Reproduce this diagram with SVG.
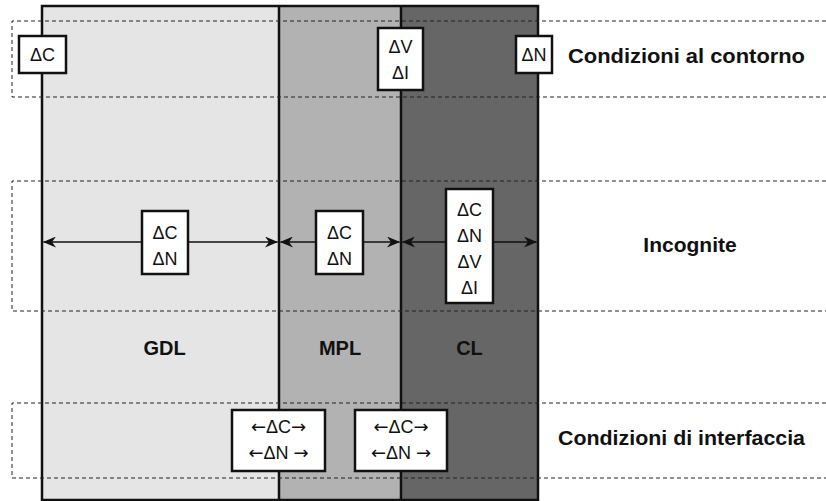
<svg xmlns="http://www.w3.org/2000/svg" width="826" height="501" viewBox="0 0 826 501">
  <style>
    .band { fill: none; stroke: #222; stroke-width: 1; stroke-dasharray: 4 3; }
    .wall { fill: none; stroke: #111; stroke-width: 2.5; }
    .box { fill: #fff; stroke: #111; stroke-width: 2.5; }
    .t { font-family: "Liberation Sans", Arial, sans-serif; font-size: 18px; fill: #111; text-anchor: middle; }
    .ar { font-family: "DejaVu Sans", sans-serif; font-size: 18px; }
    .h { font-family: "Liberation Sans", Arial, sans-serif; font-size: 21px; font-weight: bold; fill: #111; }
    .layer { font-family: "Liberation Sans", Arial, sans-serif; font-size: 20px; font-weight: bold; fill: #111; text-anchor: middle; }
    .conn { stroke: #111; stroke-width: 1.6; fill: none; marker-start: url(#arr); marker-end: url(#arr); }
  </style>
  <defs>
    <marker id="arr" viewBox="0 0 13 11" refX="12.5" refY="5.5" markerWidth="13" markerHeight="11" markerUnits="userSpaceOnUse" orient="auto-start-reverse">
      <path d="M0,0 L13,5.5 L0,11 L4,5.5 Z" fill="#111"/>
    </marker>
  </defs>

  <!-- layers -->
  <g id="layers">
    <rect x="42" y="6" width="237" height="494" fill="#e5e5e5"/>
    <rect x="279" y="6" width="122" height="494" fill="#b2b2b2"/>
    <rect x="401" y="6" width="137" height="494" fill="#666"/>
    <rect class="wall" x="42" y="6" width="496" height="494"/>
    <line class="wall" x1="279" y1="6" x2="279" y2="500"/>
    <line class="wall" x1="401" y1="6" x2="401" y2="500"/>
  </g>

  <!-- dashed bands -->
  <g id="bands">
    <path class="band" d="M826,21 H12 V97 H826"/>
    <path class="band" d="M826,181 H12 V311 H826"/>
    <path class="band" d="M826,403 H12 V478 H826"/>
  </g>

  <!-- connectors -->
  <g id="connectors">
    <line class="conn" x1="43.5" y1="242" x2="277.5" y2="242"/>
    <line class="conn" x1="280.5" y1="242" x2="399.5" y2="242"/>
    <line class="conn" x1="402.5" y1="242" x2="536.5" y2="242"/>
  </g>

  <!-- boundary conditions -->
  <g id="bc-c">
    <rect class="box" x="19" y="36" width="47" height="37"/>
    <text class="t" x="42.5" y="61">ΔC</text>
  </g>
  <g id="bc-vi">
    <rect class="box" x="378" y="28" width="45" height="62"/>
    <text class="t" x="400.5" y="53">ΔV</text>
    <text class="t" x="400.5" y="79">ΔI</text>
  </g>
  <g id="bc-n">
    <rect class="box" x="516" y="36" width="36" height="37"/>
    <text class="t" x="534" y="61">ΔN</text>
  </g>
  <text class="h" x="568" y="63" textLength="237" lengthAdjust="spacingAndGlyphs">Condizioni al contorno</text>

  <!-- unknowns -->
  <g id="unk-gdl">
    <rect class="box" x="142" y="211" width="46" height="63"/>
    <text class="t" x="165" y="239">ΔC</text>
    <text class="t" x="165" y="265">ΔN</text>
  </g>
  <g id="unk-mpl">
    <rect class="box" x="316" y="211" width="47" height="63"/>
    <text class="t" x="339.5" y="239">ΔC</text>
    <text class="t" x="339.5" y="265">ΔN</text>
  </g>
  <g id="unk-cl">
    <rect class="box" x="446" y="189" width="47" height="114"/>
    <text class="t" x="469.5" y="216">ΔC</text>
    <text class="t" x="469.5" y="242">ΔN</text>
    <text class="t" x="469.5" y="268">ΔV</text>
    <text class="t" x="469.5" y="294">ΔI</text>
  </g>
  <text class="h" x="690" y="252" text-anchor="middle">Incognite</text>

  <!-- layer names -->
  <g id="names">
    <text class="layer" x="164.5" y="355">GDL</text>
    <text class="layer" x="340" y="355">MPL</text>
    <text class="layer" x="469.5" y="355">CL</text>
  </g>

  <!-- interface conditions -->
  <g id="if-gdl-mpl">
    <rect class="box" x="232" y="410" width="93" height="61"/>
    <text class="t" x="278.5" y="433"><tspan class="ar">←</tspan>ΔC<tspan class="ar">→</tspan></text>
    <text class="t" x="278.5" y="459"><tspan class="ar">←</tspan>ΔN <tspan class="ar">→</tspan></text>
  </g>
  <g id="if-mpl-cl">
    <rect class="box" x="355" y="410" width="92" height="61"/>
    <text class="t" x="401" y="433"><tspan class="ar">←</tspan>ΔC<tspan class="ar">→</tspan></text>
    <text class="t" x="401" y="459"><tspan class="ar">←</tspan>ΔN <tspan class="ar">→</tspan></text>
  </g>
  <text class="h" x="558" y="445" textLength="247" lengthAdjust="spacingAndGlyphs">Condizioni di interfaccia</text>
</svg>
